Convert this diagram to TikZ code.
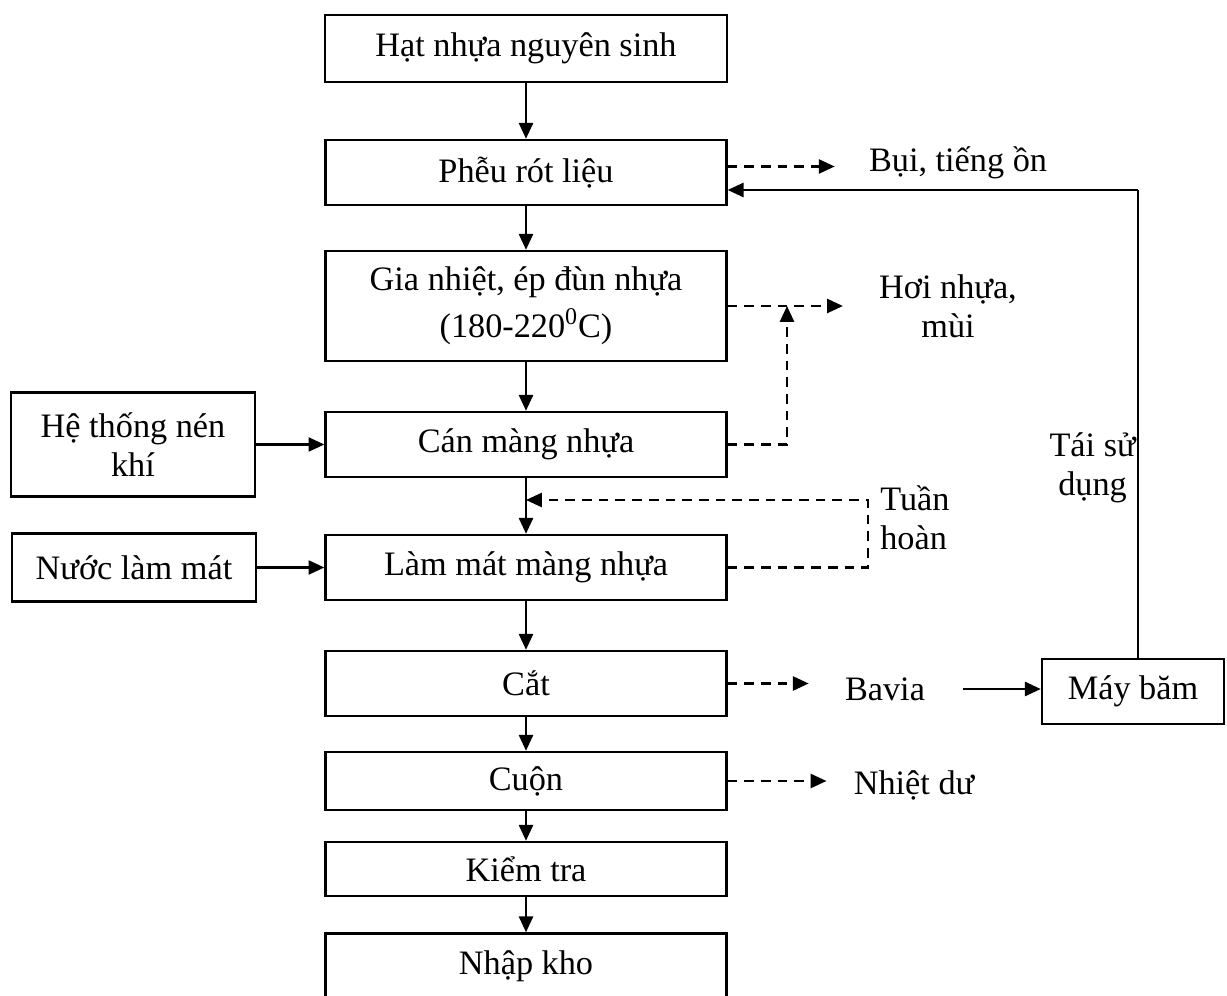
\documentclass[tikz,border=0pt]{standalone}
\usepackage{fontspec}
\setmainfont{Liberation Serif}
\usetikzlibrary{arrows.meta,positioning}

\begin{document}
\begin{tikzpicture}[x=0.02cm, y=-0.02cm,
  font=\fontsize{19.5}{22}\selectfont,
  box/.style={draw, line width=1.4pt, minimum width=8.02cm,
              minimum height=1.3cm, align=center, inner sep=0pt},
  lbl/.style={align=center, inner sep=0pt},
  arr/.style={-{Triangle[length=9pt,width=8pt]}, line width=1.3pt},
  darr/.style={-{Triangle[length=9pt,width=8pt]}, line width=1.3pt,
               dash pattern=on 5.5pt off 4pt}
]
  \path[use as bounding box, fill=white] (0,0) rectangle (1227,996);

  \node[box, minimum width=8.04cm, minimum height=1.34cm] (hat) at (526,48.5) {Hạt nhựa nguyên sinh};
  \node[box] (pheu) at (526,172.5) {Phễu rót liệu};
  \node[box, minimum height=2.2cm] (gia) at (526,306) {Gia nhiệt, ép đùn nhựa\\[5pt](180-220\textsuperscript{0}C)};
  \node[box] (can) at (526,444.5) {Cán màng nhựa};
  \node[box] (lammat) at (526,567.5) {Làm mát màng nhựa};
  \node[box] (cat) at (526,683.5) {Cắt};
  \node[box, minimum height=1.16cm] (cuon) at (526,781) {Cuộn};
  \node[box, minimum height=1.08cm] (kiem) at (526,869) {Kiểm tra};
  \node[box] (nhap) at (526,966) {Nhập kho};

  \node[box, minimum width=4.88cm, minimum height=2.08cm] (heth) at (133,444.5) {Hệ thống nén\\khí};
  \node[box, minimum width=4.88cm, minimum height=1.36cm] (nuoc) at (134,567.5) {Nước làm mát};
  \node[box, minimum width=3.64cm] (mayb) at (1133,691.5) {Máy băm};

  \node[lbl] (bui) at (958,163) {Bụi, tiếng ồn};
  \node[lbl] (hoi) at (948,306) {Hơi nhựa,\\mùi};
  \node[lbl, align=left, anchor=west] (tuan) at (880,518) {Tuần\\hoàn};
  \node[lbl] (bavia) at (885,689) {Bavia};
  \node[lbl] (nhietdu) at (914,785) {Nhiệt dư};
  \node[lbl, anchor=east] (taisd) at (1136,468) {Tái sử\\dụng};

  \coordinate (reuse) at (1138,190);
  \coordinate (hmeet) at (787,306);
  \coordinate (tret) at (868,500);

  \draw[arr] (hat) -- (pheu);
  \draw[arr] (pheu) -- (gia);
  \draw[arr] (gia) -- (can);
  \draw[arr] (can) -- (lammat);
  \draw[arr] (lammat) -- (cat);
  \draw[arr] (cat) -- (cuon);
  \draw[arr] (cuon) -- (kiem);
  \draw[arr] (kiem) -- (nhap);

  \draw[arr] (heth) -- (can);
  \draw[arr] (nuoc) -- (lammat);

  \draw[darr, shorten >=0.68cm] ([yshift=0.12cm]pheu.east) -- ([yshift=0.12cm]pheu.east -| bui.west);
  \draw[darr, shorten >=0.72cm] (gia.east) -- (gia.east -| hoi.west);
  \draw[darr] (can.east) -| (hmeet);
  \draw[darr] (lammat.east) -| (tret) -- (tret -| can.south);
  \draw[darr, shorten >=0.72cm] (cat.east) -- (cat.east -| bavia.west);
  \draw[darr, shorten >=0.54cm] (cuon.east) -- (cuon.east -| nhietdu.west);

  \draw[arr, shorten <=0.76cm] (bavia.east) -- (bavia.east -| mayb.west);
  \draw[line width=0.6pt] (reuse |- mayb.north) -- (reuse);
  \draw[arr] (reuse) -- (reuse -| pheu.east);
\end{tikzpicture}
\end{document}
